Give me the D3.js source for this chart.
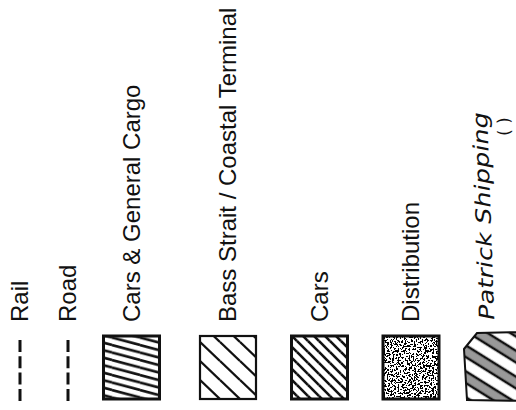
<!DOCTYPE html>
<html>
<head>
<meta charset="utf-8">
<script src="https://cdn.jsdelivr.net/npm/d3@7"></script>
<style>
  html, body { margin: 0; padding: 0; background: #fff; }
  svg { display: block; }
</style>
</head>
<body>
<div id="chart"></div>
<script>
// legend entries, left to right as they sit on the (rotated) sheet
const labels = ["Rail", "Road", "Cars & General Cargo", "Bass Strait / Coastal Terminal", "Cars", "Distribution", "Patrick Shipping"];
const symbols = ["dash", "dash", "hatchShallow", "hatchSparse", "hatchDense", "stipple", "bands"];
const handwritten = [false, false, false, false, false, false, true];
const notes = ["", "", "", "", "", "", "( )"];

const width = 516, height = 410;

const svg = d3.select("#chart")
  .append("svg")
    .attr("width", width)
    .attr("height", height);

svg.append("rect")
  .attr("width", width)
  .attr("height", height)
  .attr("fill", "#fff");

// column centre of every entry (spacing on the sheet is uneven)
const x = d3.scaleOrdinal()
  .domain(labels)
  .range([20, 68, 131.5, 228, 319.5, 411, 493]);

const textBottom = 322;
const symTop = 336, symBottom = 399, symW = 56;
const ink = "#111";

const defs = svg.append("defs");

// line hatches: tile w x h with one stroke corner to corner (plus wrap pieces)
function hatch(id, w, h, sw, dash) {
  const p = defs.append("pattern")
    .attr("id", id)
    .attr("patternUnits", "userSpaceOnUse")
    .attr("width", w)
    .attr("height", h);
  [[0, 0], [-w, 0], [w, 0], [0, -h], [0, h]].forEach(([ox, oy]) => {
    p.append("line")
      .attr("x1", ox).attr("y1", oy)
      .attr("x2", ox + w).attr("y2", oy + h)
      .attr("stroke", ink)
      .attr("stroke-width", sw)
      .attr("stroke-dasharray", dash || null);
  });
}
hatch("hatchShallow", 28, 7.5, 2.6);
hatch("hatchDense", 11, 11, 2.6);
hatch("hatchSparse", 20, 19, 2.3);

// speckle texture for the stippled boxes
const speckle = defs.append("filter")
  .attr("id", "speckle")
  .attr("x", 0).attr("y", 0).attr("width", 1).attr("height", 1);
speckle.append("feTurbulence")
  .attr("type", "fractalNoise")
  .attr("baseFrequency", 0.55)
  .attr("numOctaves", 2)
  .attr("seed", 4);
speckle.append("feColorMatrix")
  .attr("type", "matrix")
  .attr("values", "0 0 0 0 0  0 0 0 0 0  0 0 0 0 0  6 0 0 0 -2.7");
const ct = speckle.append("feComponentTransfer");
ct.append("feFuncA").attr("type", "discrete").attr("tableValues", "0 1");

// wide bands of the hand drawn box
const bands = defs.append("pattern")
  .attr("id", "bands")
  .attr("patternUnits", "userSpaceOnUse")
  .attr("width", 60)
  .attr("height", 22)
  .attr("patternTransform", "rotate(32)");
bands.append("rect")
  .attr("x", 0).attr("y", 3).attr("width", 60).attr("height", 8)
  .attr("fill", "#999");
bands.append("line")
  .attr("x1", 0).attr("x2", 60).attr("y1", 2).attr("y2", 2)
  .attr("stroke", ink).attr("stroke-width", 2.4);
bands.append("line")
  .attr("x1", 0).attr("x2", 60).attr("y1", 12).attr("y2", 12)
  .attr("stroke", ink).attr("stroke-width", 2.4);

const entries = labels.map((d, i) => ({
  label: d, symbol: symbols[i], hand: handwritten[i], note: notes[i]
}));

const g = svg.selectAll("g.entry")
  .data(entries)
  .join("g")
    .attr("class", "entry");

// labels, reading bottom to top
g.append("text")
  .attr("transform", d => d.hand
    ? `translate(${x(d.label) - 6},${textBottom - 2}) rotate(-92)`
    : `translate(${x(d.label)},${textBottom}) rotate(-90)`)
  .attr("dy", "0.35em")
  .attr("font-family", d => d.hand ? "DejaVu Sans" : "Liberation Sans, Arial, sans-serif")
  .attr("font-style", d => d.hand ? "italic" : "normal")
  .attr("font-size", d => d.hand ? 21 : 24)
  .attr("textLength", d => d.hand ? 208 : null)
  .attr("lengthAdjust", "spacingAndGlyphs")
  .attr("fill", ink)
  .text(d => d.label);

g.filter(d => d.note)
  .append("text")
  .attr("transform", d => `translate(${x(d.label) + 11},${textBottom - 186}) rotate(-92)`)
  .attr("dy", "0.35em")
  .attr("font-family", "DejaVu Sans")
  .attr("font-size", 17)
  .attr("fill", ink)
  .text(d => d.note);

// dashed line symbols
g.filter(d => d.symbol === "dash")
  .append("line")
  .attr("x1", d => x(d.label)).attr("x2", d => x(d.label))
  .attr("y1", symTop + 4).attr("y2", symBottom + 2)
  .attr("stroke", ink)
  .attr("stroke-width", 3)
  .attr("stroke-dasharray", "12 4.3");

// hatched boxes
const boxes = g.filter(d => d.symbol !== "dash" && d.symbol !== "bands");
boxes.filter(d => d.symbol === "stipple")
  .append("rect")
  .attr("x", d => x(d.label) - symW / 2)
  .attr("y", symTop)
  .attr("width", symW)
  .attr("height", symBottom - symTop)
  .attr("fill", "#fff")
  .attr("filter", "url(#speckle)");
boxes.filter(d => d.symbol !== "stipple")
  .append("rect")
  .attr("x", d => x(d.label) - symW / 2)
  .attr("y", symTop)
  .attr("width", symW)
  .attr("height", symBottom - symTop)
  .attr("fill", d => `url(#${d.symbol})`);
boxes.append("rect")
  .attr("x", d => x(d.label) - symW / 2)
  .attr("y", symTop)
  .attr("width", symW)
  .attr("height", symBottom - symTop)
  .attr("fill", "none")
  .attr("stroke", ink)
  .attr("stroke-width", d => d.symbol === "hatchSparse" ? 2.2 : 3);

// hand drawn box with a clipped corner
const cut = 13;
const hand = g.filter(d => d.symbol === "bands");
const handPath = d => {
  const l = x(d.label) - symW / 2 - 1, r = l + symW + 4;
  return d3.line()([[l, symTop + cut], [l + cut, symTop - 3], [r, symTop - 4], [r, symBottom + 2], [l + 3, symBottom + 1]]) + "Z";
};
hand.append("path")
  .attr("d", handPath)
  .attr("fill", "url(#bands)");
hand.append("path")
  .attr("d", handPath)
  .attr("fill", "none")
  .attr("stroke", ink)
  .attr("stroke-width", 2);
</script>
</body>
</html>
